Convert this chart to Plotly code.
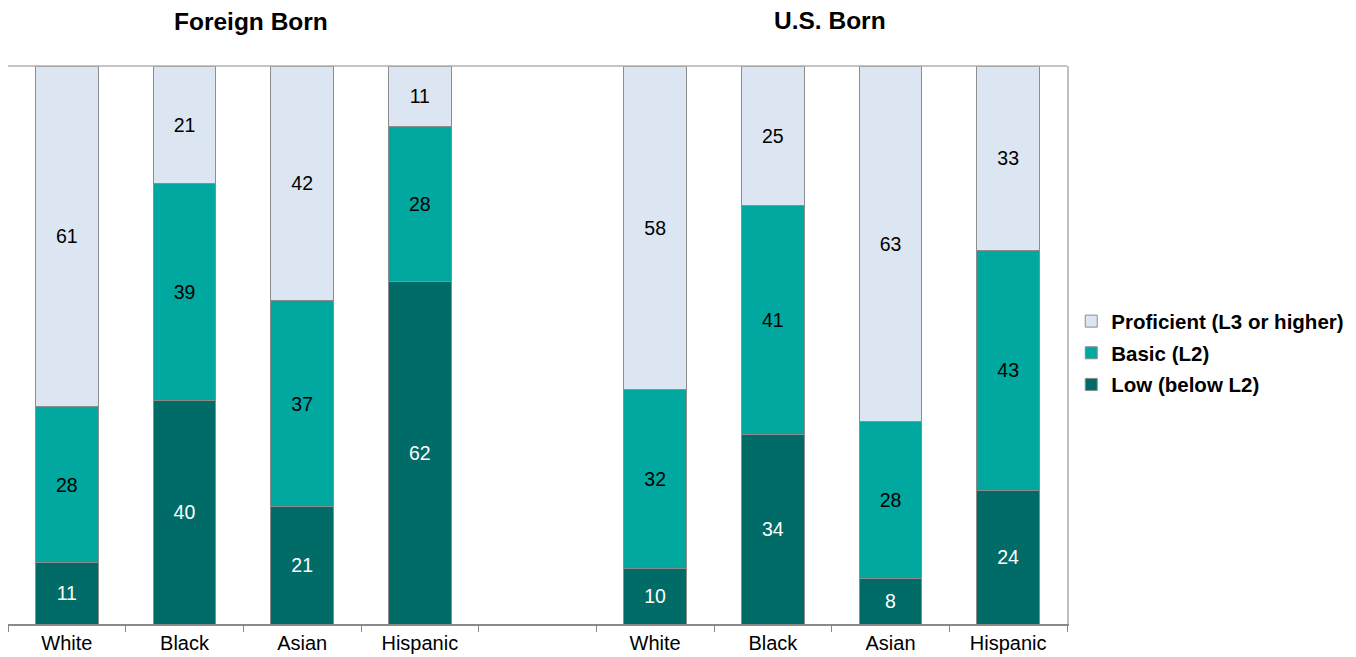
import plotly.graph_objects as go

categories = ["White", "Black", "Asian", "Hispanic", "", "White", "Black", "Asian", "Hispanic"]
low = [11, 40, 21, 62, None, 10, 34, 8, 24]
basic = [28, 39, 37, 28, None, 32, 41, 28, 43]
proficient = [61, 21, 42, 11, None, 58, 25, 63, 33]
group_titles = ["Foreign Born", "U.S. Born"]

x = list(range(len(categories)))
FONT = "Liberation Sans, Arial, sans-serif"

fig = go.Figure()
series = [
    ("Low (below L2)", low, "#006B67", "white", 3),
    ("Basic (L2)", basic, "#00A8A0", "black", 2),
    ("Proficient (L3 or higher)", proficient, "#DCE6F2", "black", 1),
]
for name, vals, color, tcolor, rank in series:
    fig.add_trace(go.Bar(
        x=x, y=vals, name=name, legendgroup=name, legendrank=rank,
        marker=dict(color=color, line=dict(color="#8C8C8C", width=1)),
        text=[("" if v is None else str(v)) for v in vals],
        textposition="inside", insidetextanchor="middle", textangle=0,
        textfont=dict(color=tcolor, size=19.5, family=FONT),
        width=0.53,
    ))

# page body has an 8px margin, so the figure is shrunk by that amount
fig.update_layout(
    barmode="stack", barnorm="percent",
    width=1348, height=649,
    margin=dict(l=0, r=289, t=58, b=33, autoexpand=False),
    plot_bgcolor="white", paper_bgcolor="white",
    uniformtext=dict(minsize=19, mode="show"),
    legend=dict(
        traceorder="grouped", x=1.004, y=0.486, yanchor="middle", xanchor="left",
        font=dict(family=FONT, size=20.5, color="black", weight="bold"),
        itemwidth=30, tracegroupgap=2, bgcolor="rgba(0,0,0,0)",
    ),
    showlegend=True,
)
fig.update_xaxes(
    range=[-0.5, 8.5], tickmode="array", tickvals=x, ticktext=categories,
    ticks="", tickfont=dict(family=FONT, size=20, color="black"),
    showline=True, linecolor="#898989", linewidth=1.5, mirror=False,
    showgrid=False, zeroline=False, automargin=False,
    minor=dict(tickmode="array", tickvals=[i - 0.5 for i in range(10)],
               ticks="outside", ticklen=6, tickcolor="#898989", tickwidth=1),
)
fig.update_yaxes(
    range=[0, 100], showticklabels=False, showgrid=False, zeroline=False,
    showline=True, linecolor="#C0C0C0", linewidth=1.5, mirror=True, ticks="",
    automargin=False,
)
# top frame line
fig.add_shape(type="line", xref="paper", yref="paper", x0=0, x1=1, y0=1, y1=1,
              line=dict(color="#B0B0B0", width=1.5))

fig.add_annotation(text="<b>" + group_titles[0] + "</b>", xref="x", x=1.561,
                   yref="paper", y=1.0789, yanchor="middle",
                   showarrow=False, font=dict(family=FONT, size=24.5, color="black"))
fig.add_annotation(text="<b>" + group_titles[1] + "</b>", xref="x", x=6.486,
                   yref="paper", y=1.0824, yanchor="middle",
                   showarrow=False, font=dict(family=FONT, size=24.5, color="black"))

fig.write_html("out.html")
